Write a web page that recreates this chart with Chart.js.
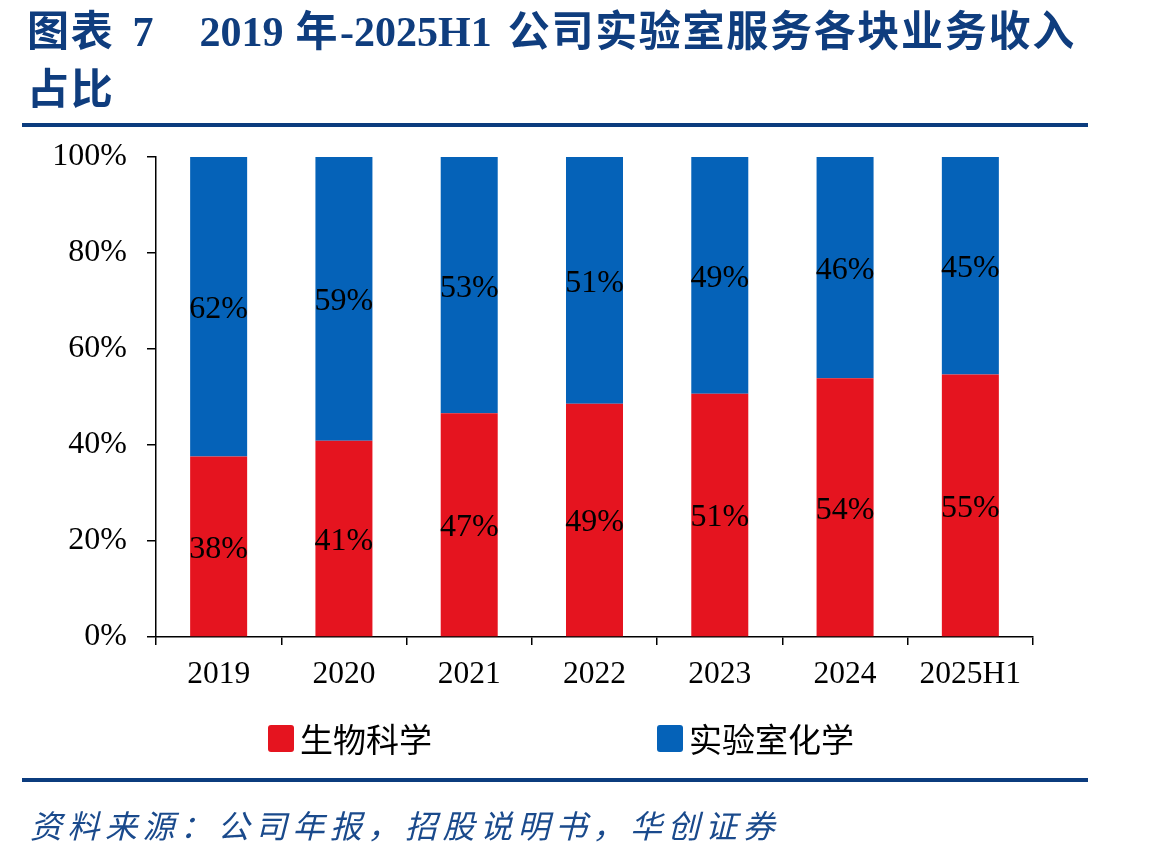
<!DOCTYPE html>
<html><head><meta charset="utf-8">
<script src="https://cdn.jsdelivr.net/npm/chart.js@4/dist/chart.umd.min.js"></script>
<style>
html,body{margin:0;padding:0;background:#fff;}
body{width:1149px;height:856px;position:relative;overflow:hidden;}
#chartWrap{position:absolute;left:0;top:0;width:1149px;height:856px;}
#title{position:absolute;left:27px;top:3px;width:1120px;font-family:"Liberation Serif","Noto Sans CJK SC",serif;font-weight:bold;font-size:42px;line-height:58px;color:#0f3d7e;white-space:nowrap;}
#title span{display:inline-block;}
#title .cj{letter-spacing:1.7px;}
.rule{position:absolute;left:22px;width:1066px;height:4px;background:#0b3c7e;}
#source{position:absolute;left:30px;top:804px;font-family:"Noto Sans CJK SC",sans-serif;font-style:italic;font-size:32px;line-height:40px;color:#1a4a8c;letter-spacing:5.5px;white-space:pre;}
.item{position:absolute;top:718px;height:40px;display:flex;align-items:center;font-family:"Noto Sans CJK SC",sans-serif;font-size:33px;color:#000;white-space:pre;}
.box{width:26px;height:27px;border-radius:3px;margin-right:6px;}
</style></head>
<body>
<div id="chartWrap"><canvas id="c" width="1149" height="856"></canvas></div>
<div id="title"><span class="cj">图表</span><span style="margin-left:18px">7</span><span style="margin-left:46px">2019</span><span class="cj" style="margin-left:12px">年</span><span style="margin-left:1px">-2025H1</span><span class="cj" style="margin-left:16px">公司实验室服务各块业务收入</span><br><span class="cj">占比</span></div>
<div class="rule" style="top:123px"></div>
<div id="legendA" class="item" style="left:268px"></div>
<div id="legendB" class="item" style="left:657px"></div>
<div class="rule" style="top:778px"></div>
<div id="source">资料来源：公司年报，招股说明书，华创证券</div>
<script>
const categories = ['2019','2020','2021','2022','2023','2024','2025H1'];
const bioShare = [37.6, 40.9, 46.6, 48.6, 50.7, 53.9, 54.7];
const chemShare = [62.4, 59.1, 53.4, 51.4, 49.3, 46.1, 45.3];
const seriesNames = ['生物科学','实验室化学'];
const seriesColors = ['#E5141F','#0562B8'];
const yTicks = [0,20,40,60,80,100];

// HTML legend built from series arrays
[['legendA',0],['legendB',1]].forEach(([id,i])=>{
  const el=document.getElementById(id);
  const b=document.createElement('span');b.className='box';b.style.background=seriesColors[i];
  el.appendChild(b);el.appendChild(document.createTextNode(seriesNames[i]));
});

const segLabels = {
  id:'segLabels',
  afterDatasetsDraw(chart){
    const ctx=chart.ctx;
    ctx.save();
    ctx.font='32px "Liberation Serif"';
    ctx.fillStyle='#000';ctx.textAlign='center';ctx.textBaseline='middle';
    chart.data.datasets.forEach((ds,di)=>{
      const meta=chart.getDatasetMeta(di);
      meta.data.forEach((bar,i)=>{
        ctx.fillText(Math.round(ds.data[i])+'%', bar.x, (bar.y+bar.base)/2+3);
      });
    });
    ctx.restore();
  }
};

new Chart(document.getElementById('c'),{
  type:'bar',
  data:{
    labels:categories,
    datasets:[
      {label:seriesNames[0],data:bioShare,backgroundColor:seriesColors[0],barPercentage:0.455,categoryPercentage:1.0},
      {label:seriesNames[1],data:chemShare,backgroundColor:seriesColors[1],barPercentage:0.455,categoryPercentage:1.0}
    ]
  },
  options:{
    responsive:false,animation:false,devicePixelRatio:1,
    layout:{padding:{left:0,top:157,right:116,bottom:159}},
    plugins:{legend:{display:false},tooltip:{enabled:false},title:{display:false}},
    scales:{
      x:{
        stacked:true,
        afterFit:(s)=>{s.height=60;},
        grid:{offset:true,drawOnChartArea:false,drawTicks:true,tickLength:8,color:'#000',lineWidth:1.5},
        border:{display:true,color:'#000',width:1.5},
        ticks:{color:'#000',font:{family:'"Liberation Serif"',size:31.5},padding:11,maxRotation:0}
      },
      y:{
        stacked:true,min:0,max:100,
        afterFit:(s)=>{s.width=156;},
        afterBuildTicks:(s)=>{s.ticks=yTicks.map(v=>({value:v}));},
        grid:{drawOnChartArea:false,drawTicks:true,tickLength:9,color:'#000',lineWidth:1.5},
        border:{display:true,color:'#000',width:1.5},
        ticks:{color:'#000',font:{family:'"Liberation Serif"',size:32},padding:20,callback:(v)=>v+'%'}
      }
    }
  },
  plugins:[segLabels]
});
</script>
</body></html>
